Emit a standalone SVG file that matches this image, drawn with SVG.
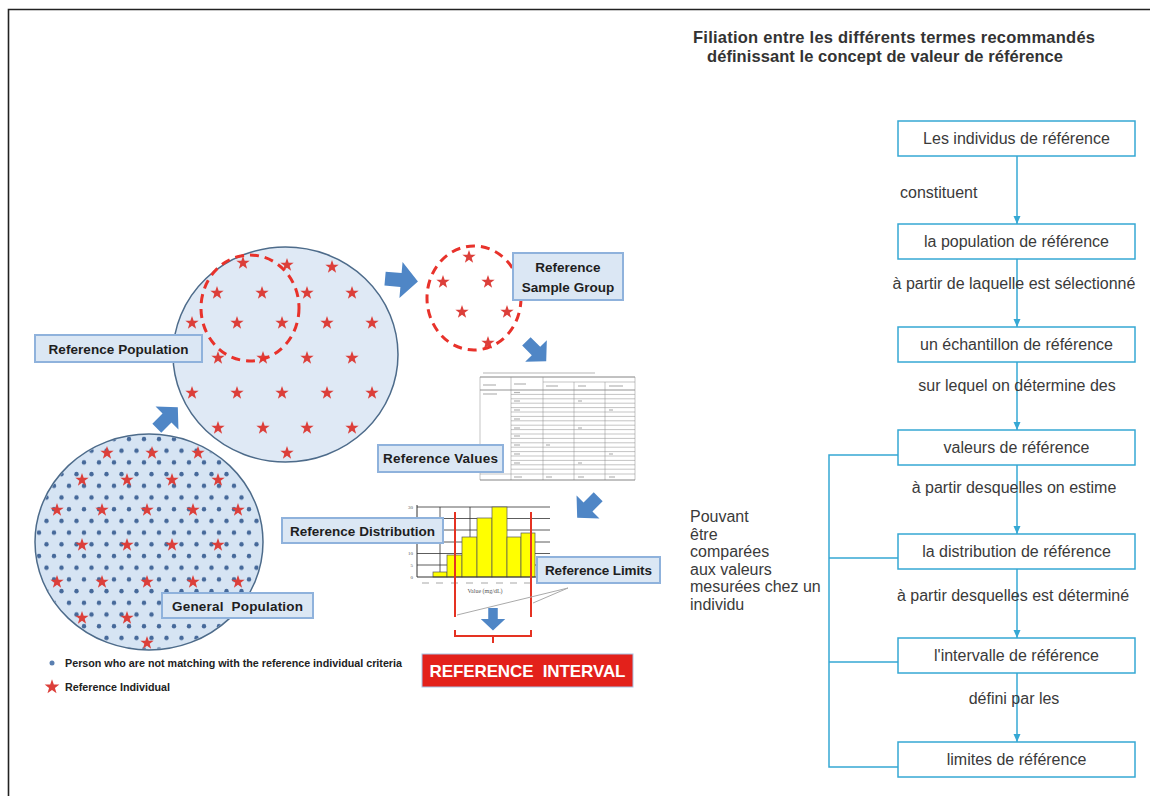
<svg xmlns="http://www.w3.org/2000/svg" xmlns:xlink="http://www.w3.org/1999/xlink" width="1150" height="796" viewBox="0 0 1150 796">
<style>
.lbl{fill:#dbe7f4;stroke:#8fb2dc;stroke-width:2}
.lt{font-family:"Liberation Sans",Arial,sans-serif;font-weight:bold;font-size:13.5px;fill:#1e1e1e;text-anchor:middle}
.arrow{fill:#4f86c6}
.star{fill:#dc3f3a}
.fbox{fill:#fff;stroke:#36a8d4;stroke-width:1.5}
.ft{font-family:"Liberation Sans",Arial,sans-serif;font-size:16px;fill:#3a3a3a;text-anchor:middle}
.fl{stroke:#36a8d4;stroke-width:1.5;fill:none}
.side{font-family:"Liberation Sans",Arial,sans-serif;font-size:16px;fill:#3a3a3a}
.title{font-family:"Liberation Sans",Arial,sans-serif;font-weight:bold;font-size:16.5px;fill:#333}
.tl{stroke:#888;stroke-width:0.5}
.ph{stroke:#b5b5b5;stroke-width:1.2}
.grid{stroke:#333;stroke-width:0.8}
.bar{fill:#ffff00;stroke:#555;stroke-width:0.7}
.red{stroke:#e53222;stroke-width:2;fill:none}
.legend{font-family:"Liberation Sans",Arial,sans-serif;font-weight:bold;font-size:10px;fill:#222}
</style>
<defs>
<path id="star" class="star" d="M0,-7 L1.65,-2.27 L6.66,-2.16 L2.66,0.87 L4.11,5.66 L0,2.8 L-4.11,5.66 L-2.66,0.87 L-6.66,-2.16 L-1.65,-2.27 Z"/>
<path id="barrow" class="arrow" d="M-16,-7 L0,-7 L0,-18 L17,0 L0,18 L0,7 L-16,7 Z"/>
<pattern id="dots" patternUnits="userSpaceOnUse" x="35" y="434" width="15" height="23.4">
<circle cx="4" cy="5" r="2.2" fill="#46699a"/>
<circle cx="11.5" cy="16.7" r="2.2" fill="#46699a"/>
</pattern>
<marker id="ah" viewBox="0 0 8 8" refX="8" refY="4" markerWidth="8" markerHeight="8" markerUnits="userSpaceOnUse" orient="auto">
<path d="M0,0.5 L8,4 L0,7.5 Z" fill="#36a8d4"/>
</marker>
</defs>

<rect width="1150" height="796" fill="#fff"/>
<path d="M8.5,796 L8.5,9.5 L1150,9.5" fill="none" stroke="#222" stroke-width="1.6"/>

<!-- General population -->
<g id="general-population">
<ellipse cx="149" cy="542" rx="114" ry="108" fill="#d6e4f3"/>
<ellipse cx="149" cy="542" rx="113" ry="107" fill="url(#dots)"/>
<ellipse cx="149" cy="542" rx="114" ry="108" fill="none" stroke="#4d6b8a" stroke-width="1.5"/>
<use href="#star" x="107" y="453"/><use href="#star" x="152" y="453"/><use href="#star" x="198" y="453"/>
<use href="#star" x="82" y="480"/><use href="#star" x="127" y="480"/><use href="#star" x="172" y="480"/><use href="#star" x="218" y="480"/>
<use href="#star" x="57" y="510"/><use href="#star" x="102" y="510"/><use href="#star" x="147" y="510"/><use href="#star" x="193" y="510"/><use href="#star" x="238" y="510"/>
<use href="#star" x="82" y="545"/><use href="#star" x="127" y="545"/><use href="#star" x="172" y="545"/><use href="#star" x="218" y="545"/>
<use href="#star" x="57" y="582"/><use href="#star" x="102" y="582"/><use href="#star" x="147" y="582"/><use href="#star" x="193" y="582"/><use href="#star" x="238" y="582"/>
<use href="#star" x="82" y="618"/><use href="#star" x="127" y="618"/>
<use href="#star" x="147" y="643"/>
<rect class="lbl" x="162" y="593" width="151" height="25"/>
<text class="lt" x="237.5" y="610.5" textLength="131">General&#160; Population</text>
</g>

<!-- Reference population -->
<g id="reference-population">
<ellipse cx="285.5" cy="354.5" rx="112.5" ry="107.5" fill="#dfe9f5" stroke="#4d6b8a" stroke-width="1.5"/>
<use href="#star" x="243" y="263"/><use href="#star" x="287" y="265"/><use href="#star" x="332" y="267"/>
<use href="#star" x="217" y="293"/><use href="#star" x="262" y="293"/><use href="#star" x="307" y="293"/><use href="#star" x="352" y="293"/>
<use href="#star" x="192" y="323"/><use href="#star" x="237" y="323"/><use href="#star" x="282" y="323"/><use href="#star" x="327" y="323"/><use href="#star" x="372" y="323"/>
<use href="#star" x="218" y="358"/><use href="#star" x="263" y="358"/><use href="#star" x="307" y="358"/><use href="#star" x="352" y="358"/>
<use href="#star" x="192" y="393"/><use href="#star" x="237" y="393"/><use href="#star" x="282" y="393"/><use href="#star" x="327" y="393"/><use href="#star" x="372" y="393"/>
<use href="#star" x="218" y="428"/><use href="#star" x="263" y="428"/><use href="#star" x="307" y="428"/><use href="#star" x="352" y="428"/>
<use href="#star" x="287" y="453"/>
<ellipse cx="250" cy="308" rx="49" ry="53" fill="none" stroke="#e8322b" stroke-width="3" stroke-dasharray="9 6"/>
<rect class="lbl" x="35" y="335" width="167" height="27"/>
<text class="lt" x="118.5" y="353.5" textLength="140">Reference Population</text>
</g>

<!-- Reference sample group -->
<g id="reference-sample-group">
<use href="#star" x="469" y="257"/><use href="#star" x="443" y="282"/><use href="#star" x="488" y="282"/>
<use href="#star" x="462" y="312"/><use href="#star" x="507" y="312"/><use href="#star" x="488" y="343"/>
<ellipse cx="474" cy="298" rx="47" ry="52" fill="none" stroke="#e8322b" stroke-width="3" stroke-dasharray="9 6"/>
<rect class="lbl" x="513" y="253" width="110" height="47"/>
<text class="lt" x="568" y="272">Reference</text>
<text class="lt" x="568" y="292">Sample Group</text>
</g>

<!-- Reference values (table) -->
<g id="reference-values">
<rect x="480" y="370" width="155" height="112" fill="#fff"/>
<line class="ph" x1="483" y1="373" x2="595" y2="373" stroke-width="1"/>
<line x1="480" y1="377" x2="635" y2="377" stroke="#666" stroke-width="0.8"/>
<line class="tl" x1="543" y1="382" x2="635" y2="382"/>
<line x1="480" y1="390" x2="635" y2="390" stroke="#666" stroke-width="0.7"/>
<g class="tl">
<line x1="511" y1="394.4" x2="635" y2="394.4"/><line x1="511" y1="398.8" x2="635" y2="398.8"/>
<line x1="511" y1="403.2" x2="635" y2="403.2"/><line x1="511" y1="407.6" x2="635" y2="407.6"/>
<line x1="511" y1="412" x2="635" y2="412"/><line x1="511" y1="416.4" x2="635" y2="416.4"/>
<line x1="511" y1="420.8" x2="635" y2="420.8"/><line x1="511" y1="425.2" x2="635" y2="425.2"/>
<line x1="511" y1="429.6" x2="635" y2="429.6"/><line x1="511" y1="434" x2="635" y2="434"/>
<line x1="511" y1="438.4" x2="635" y2="438.4"/><line x1="511" y1="442.8" x2="635" y2="442.8"/>
<line x1="511" y1="447.2" x2="635" y2="447.2"/><line x1="511" y1="451.6" x2="635" y2="451.6"/>
<line x1="511" y1="456" x2="635" y2="456"/><line x1="511" y1="460.4" x2="635" y2="460.4"/>
<line x1="511" y1="464.8" x2="635" y2="464.8"/><line x1="511" y1="469.2" x2="635" y2="469.2"/>
<line x1="480" y1="474" x2="635" y2="474"/>
<line x1="480" y1="377" x2="480" y2="480"/><line x1="511" y1="377" x2="511" y2="480"/>
<line x1="543" y1="377" x2="543" y2="480"/><line x1="574" y1="382" x2="574" y2="480"/>
<line x1="605" y1="382" x2="605" y2="480"/><line x1="635" y1="377" x2="635" y2="480"/>
</g>
<line x1="480" y1="480" x2="635" y2="480" stroke="#666" stroke-width="0.8"/>
<g class="ph">
<line x1="483" y1="385" x2="496" y2="385"/><line x1="514" y1="384" x2="526" y2="384"/><line x1="546" y1="386" x2="558" y2="386"/>
<line x1="578" y1="386" x2="586" y2="386"/><line x1="609" y1="386" x2="623" y2="386"/><line x1="483" y1="394" x2="497" y2="394"/>
<line x1="514" y1="392.5" x2="520" y2="392.5"/><line x1="514" y1="401" x2="520" y2="401"/><line x1="514" y1="410" x2="520" y2="410"/>
<line x1="514" y1="419" x2="520" y2="419"/><line x1="514" y1="428" x2="520" y2="428"/><line x1="514" y1="436" x2="520" y2="436"/>
<line x1="514" y1="445" x2="520" y2="445"/><line x1="514" y1="454" x2="520" y2="454"/><line x1="514" y1="463" x2="520" y2="463"/>
<line x1="514" y1="477" x2="522" y2="477"/><line x1="546" y1="477" x2="552" y2="477"/><line x1="578" y1="477" x2="584" y2="477"/><line x1="609" y1="477" x2="615" y2="477"/>
<line x1="578" y1="401" x2="582" y2="401"/><line x1="609" y1="410" x2="613" y2="410"/><line x1="578" y1="428" x2="582" y2="428"/>
<line x1="546" y1="445" x2="550" y2="445"/><line x1="609" y1="454" x2="613" y2="454"/><line x1="578" y1="463" x2="582" y2="463"/>
</g>
<rect class="lbl" x="378" y="445" width="125" height="27"/>
<text class="lt" x="440.5" y="463" textLength="115">Reference Values</text>
</g>

<!-- Reference distribution (chart) -->
<g id="reference-distribution">
<g class="grid">
<line x1="417" y1="507" x2="550" y2="507"/><line x1="417" y1="518.5" x2="550" y2="518.5"/>
<line x1="417" y1="530" x2="550" y2="530"/><line x1="417" y1="542" x2="550" y2="542"/>
<line x1="417" y1="553.5" x2="550" y2="553.5"/><line x1="417" y1="565" x2="550" y2="565"/>
<line x1="440" y1="507" x2="440" y2="577"/><line x1="470" y1="507" x2="470" y2="577"/>
<line x1="500" y1="507" x2="500" y2="577"/>
</g>
<rect class="bar" x="433" y="572" width="14" height="5"/>
<rect class="bar" x="447" y="555" width="15" height="22"/>
<rect class="bar" x="462" y="537" width="15" height="40"/>
<rect class="bar" x="477" y="518" width="15" height="59"/>
<rect class="bar" x="492" y="507" width="15" height="70"/>
<rect class="bar" x="507" y="537" width="14" height="40"/>
<rect class="bar" x="521" y="533" width="14" height="44"/>
<line x1="417" y1="505" x2="417" y2="577" stroke="#333" stroke-width="1"/>
<line x1="417" y1="577" x2="550" y2="577" stroke="#333" stroke-width="1"/>
<g font-family="'Liberation Serif',serif" font-size="5" fill="#555" text-anchor="end">
<text x="413" y="509">30</text><text x="413" y="555">10</text><text x="413" y="567">5</text><text x="413" y="579">0</text>
</g>
<g class="ph" stroke-width="1">
<line x1="422" y1="583" x2="429" y2="583"/><line x1="436" y1="583" x2="443" y2="583"/><line x1="451" y1="583" x2="458" y2="583"/>
<line x1="466" y1="583" x2="473" y2="583"/><line x1="481" y1="583" x2="488" y2="583"/><line x1="496" y1="583" x2="503" y2="583"/>
<line x1="510" y1="583" x2="517" y2="583"/><line x1="524" y1="583" x2="531" y2="583"/>
</g>
<text x="485" y="593" font-family="'Liberation Serif',serif" font-size="6" fill="#555" text-anchor="middle">Value (mg/dL)</text>
<line class="red" x1="455" y1="512" x2="455" y2="617"/>
<line class="red" x1="531" y1="512" x2="531" y2="617"/>
<path class="red" d="M455,630 L455,636 L531,636 L531,630 M493,636 L493,643"/>
<rect class="lbl" x="282" y="518" width="161" height="25"/>
<text class="lt" x="362.5" y="535.5" textLength="145">Reference Distribution</text>
</g>

<!-- Reference limits -->
<g id="reference-limits">
<path d="M568,588 L457,615 M568,588 L533,603" stroke="#aaa" stroke-width="1" fill="none"/>
<rect class="lbl" x="537" y="557" width="123" height="26"/>
<text class="lt" x="598.5" y="575" textLength="107">Reference Limits</text>
</g>

<!-- Reference interval -->
<g id="reference-interval">
<rect x="422" y="654" width="211" height="33" fill="#e3211b" stroke="#a9c4e4" stroke-width="1"/>
<text x="527.5" y="677" font-family="'Liberation Sans',Arial,sans-serif" font-weight="bold" font-size="17" fill="#fff" text-anchor="middle" textLength="196">REFERENCE&#160; INTERVAL</text>
</g>

<!-- Legend -->
<g id="legend">
<circle cx="52" cy="663" r="2.5" fill="#5a7fb0"/>
<text class="legend" x="65" y="666.5" textLength="337" lengthAdjust="spacingAndGlyphs">Person who are not matching with the reference individual criteria</text>
<use href="#star" x="52" y="687" transform="translate(-5.2 -68.7) scale(1.1)"/>
<text class="legend" x="65" y="690.5" textLength="105" lengthAdjust="spacingAndGlyphs">Reference Individual</text>
</g>

<!-- Block arrows (left connectors) -->
<g id="left-connectors">
<use href="#barrow" transform="translate(167 418) rotate(-45) scale(0.9)"/>
<use href="#barrow" transform="translate(401 280) rotate(5)"/>
<use href="#barrow" transform="translate(536 351) rotate(45) scale(0.85)"/>
<use href="#barrow" transform="translate(588 507) rotate(135) scale(0.9)"/>
<use href="#barrow" transform="translate(493 619) rotate(90) scale(0.68)"/>
</g>

<!-- Title -->
<g id="title">
<text class="title" x="693" y="43" textLength="402">Filiation entre les différents termes recommandés</text>
<text class="title" x="707" y="62" textLength="356">définissant le concept de valeur de référence</text>
</g>

<!-- Flowchart connectors -->
<g id="flow-connectors">
<line class="fl" x1="1017" y1="156" x2="1017" y2="224" marker-end="url(#ah)"/>
<line class="fl" x1="1017" y1="259" x2="1017" y2="327" marker-end="url(#ah)"/>
<line class="fl" x1="1017" y1="362" x2="1017" y2="430" marker-end="url(#ah)"/>
<line class="fl" x1="1017" y1="465" x2="1017" y2="534" marker-end="url(#ah)"/>
<line class="fl" x1="1017" y1="569" x2="1017" y2="638" marker-end="url(#ah)"/>
<line class="fl" x1="1017" y1="673" x2="1017" y2="742" marker-end="url(#ah)"/>
<path class="fl" d="M898,455 L829,455 L829,767 L898,767 M829,558 L898,558 M829,662 L898,662"/>
<text class="side" x="900" y="197.5" text-anchor="start">constituent</text>
<text class="ft" x="1014" y="288.5">à partir de laquelle est sélectionné</text>
<text class="ft" x="1017" y="391">sur lequel on détermine des</text>
<text class="ft" x="1014" y="493">à partir desquelles on estime</text>
<text class="ft" x="1013" y="600.5">à partir desquelles est déterminé</text>
<text class="ft" x="1014" y="703.5">défini par les</text>
</g>

<!-- Flowchart nodes -->
<g id="f1"><rect class="fbox" x="898" y="121" width="237" height="35"/><text class="ft" x="1016.5" y="144">Les individus de référence</text></g>
<g id="f2"><rect class="fbox" x="898" y="224" width="237" height="35"/><text class="ft" x="1016.5" y="247">la population de référence</text></g>
<g id="f3"><rect class="fbox" x="898" y="327" width="237" height="35"/><text class="ft" x="1016.5" y="350">un échantillon de référence</text></g>
<g id="f4"><rect class="fbox" x="898" y="430" width="237" height="35"/><text class="ft" x="1016.5" y="453">valeurs de référence</text></g>
<g id="f5"><rect class="fbox" x="898" y="534" width="237" height="35"/><text class="ft" x="1016.5" y="557">la distribution de référence</text></g>
<g id="f6"><rect class="fbox" x="898" y="638" width="237" height="35"/><text class="ft" x="1016.5" y="661">l'intervalle de référence</text></g>
<g id="f7"><rect class="fbox" x="898" y="742" width="237" height="35"/><text class="ft" x="1016.5" y="765">limites de référence</text></g>

<!-- Side note -->
<g id="side-note">
<text class="side" x="690" y="522">Pouvant</text>
<text class="side" x="690" y="539.6">être</text>
<text class="side" x="690" y="557.2">comparées</text>
<text class="side" x="690" y="574.8">aux valeurs</text>
<text class="side" x="690" y="592.4">mesurées chez un</text>
<text class="side" x="690" y="610">individu</text>
</g>
</svg>
